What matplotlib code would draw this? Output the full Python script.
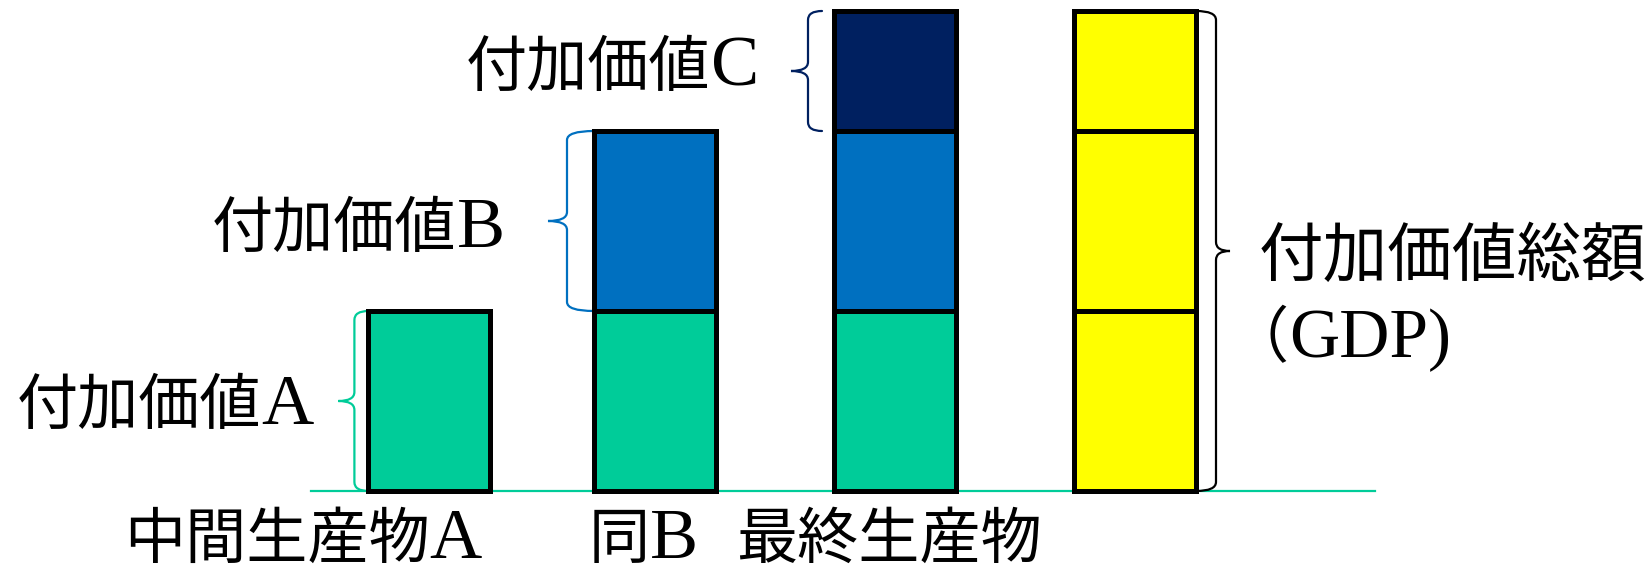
import matplotlib
matplotlib.use('Agg')
import matplotlib.pyplot as plt
from matplotlib.path import Path
from matplotlib.patches import PathPatch

# Data
bar_names = [('中間生産物', 'A'), ('同', 'B'), ('最終生産物', '')]
seg_names = [('付加価値', 'A'), ('付加価値', 'B'), ('付加価値', 'C')]
total_name = [('付加価値総額', ''), ('（', 'GDP)')]
seg_values = [3, 3, 2]
# how many segments each bar stacks
bar_segments = [1, 2, 3, 3]
bar_x = [0.06, 1.0, 2.0, 3.0]

seg_colors = ['#00CC99', '#0070C0', '#002060']
gdp_color = '#FFFF00'
brace_colors = ['#00CC99', '#0070C0', '#002060']

W, H = 1650, 572
X0_PX, XUNIT = 415, 240      # px of x=0, px per x unit
Y0_PX, YUNIT = 491, 60       # px (from top) of y=0, px per y unit


def px(v):
    return v / XUNIT


def py(v):
    return v / YUNIT


def brace(ax, x_edge, y0, y1, side, depth, tip, color):
    # curly brace with ends at x_edge, spine at depth and tip pointing away
    xs = x_edge + side * depth
    xt = xs + side * tip
    r = py(9)
    ym = (y0 + y1) / 2
    verts = [(x_edge, y0), (xs, y0), (xs, y0 + r),
             (xs, ym - r),
             (xs, ym), (xt, ym),
             (xs, ym), (xs, ym + r),
             (xs, y1 - r),
             (xs, y1), (x_edge, y1)]
    codes = [Path.MOVETO, Path.CURVE3, Path.CURVE3,
             Path.LINETO,
             Path.CURVE3, Path.CURVE3,
             Path.CURVE3, Path.CURVE3,
             Path.LINETO,
             Path.CURVE3, Path.CURVE3]
    ax.add_patch(PathPatch(Path(verts, codes), fill=False, edgecolor=color,
                           lw=1.6, capstyle='round', zorder=1))


def label(ax, x_px, y_px, parts, size=44, lsize=52):
    # gothic for the kanji part, serif (bigger) for the latin part
    cjk, latin = parts
    x, y = px(x_px - X0_PX), py(Y0_PX - y_px)
    t = ax.text(x, y, cjk, ha='left', va='baseline',
                family=['Noto Sans CJK JP'], fontsize=size)
    if latin:
        r = fig.canvas.get_renderer()
        bb = t.get_window_extent(r)
        x2 = ax.transData.inverted().transform((bb.x1, bb.y0))[0]
        ax.text(x2, y, latin, ha='left', va='baseline',
                family=['Liberation Serif', 'Noto Sans CJK JP'], fontsize=lsize)


fig = plt.figure(figsize=(W / 100, H / 100), dpi=100)
ax = fig.add_axes([0, 0, 1, 1])
ax.set_xlim(px(-X0_PX), px(W - X0_PX))
ax.set_ylim(py(-(H - Y0_PX)), py(Y0_PX))
ax.axis('off')

bw = px(122)

# baseline
ax.plot([px(311 - X0_PX), px(1375 - X0_PX)], [0, 0], color='#00CC99', lw=1.6, zorder=1)

# stacked bars
for i in range(len(bar_x)):
    bottom = 0
    for j in range(bar_segments[i]):
        col = gdp_color if i == 3 else seg_colors[j]
        ax.bar(bar_x[i], seg_values[j], bottom=bottom, width=bw, color=col,
               edgecolor='black', linewidth=3.6, zorder=3)
        bottom += seg_values[j]

# braces for each value added part
brace(ax, bar_x[0] - bw / 2, 0, seg_values[0], -1, px(14), px(16), brace_colors[0])
brace(ax, bar_x[1] - bw / 2, seg_values[0], seg_values[0] + seg_values[1], -1,
      px(27), px(19), brace_colors[1])
brace(ax, bar_x[2] - bw / 2 - px(12), sum(seg_values[:2]), sum(seg_values), -1,
      px(14), px(17), brace_colors[2])
brace(ax, bar_x[3] + bw / 2, 0, sum(seg_values), 1, px(20), px(14), 'black')

# labels (baseline y in px from top)
label(ax, 17, 424, seg_names[0])
label(ax, 212, 247, seg_names[1])
label(ax, 466, 86, seg_names[2])
label(ax, 1259, 276, total_name[0], size=46.5)
label(ax, 1228, 357, total_name[1], lsize=50)

label(ax, 124, 558, bar_names[0])
label(ax, 589, 558, bar_names[1])
label(ax, 736, 558, bar_names[2])

fig.savefig('out.png', dpi=100, facecolor='white')
